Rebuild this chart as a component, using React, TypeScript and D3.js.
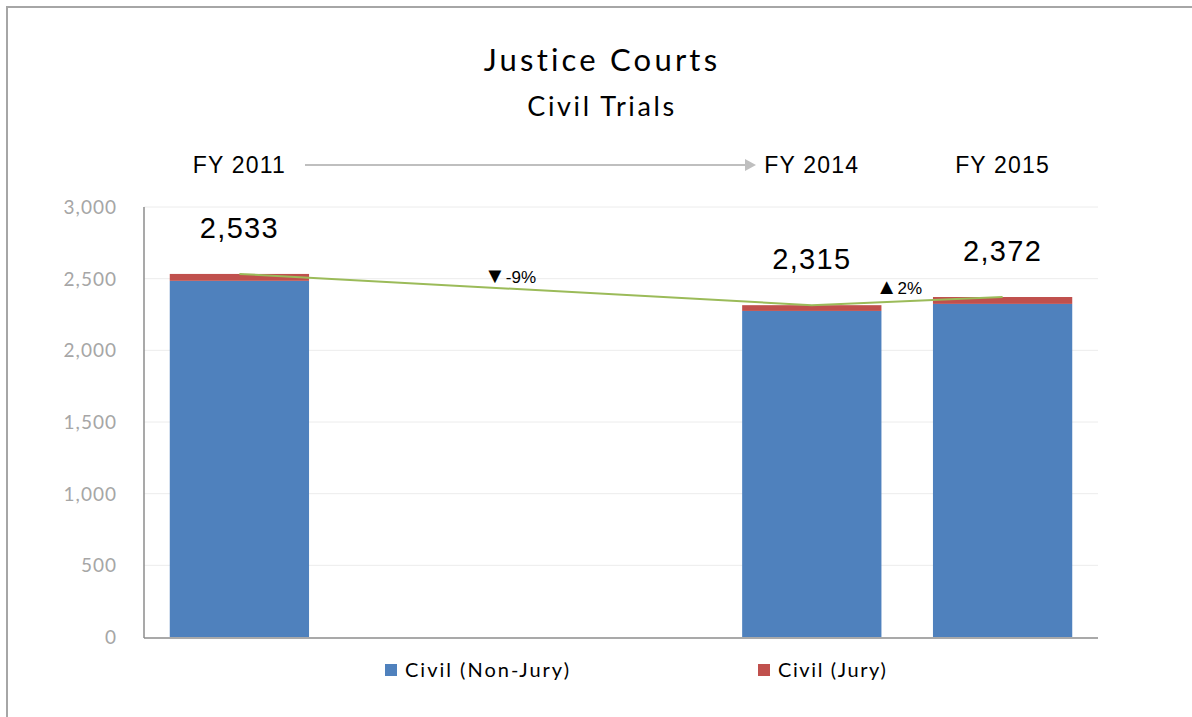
import React from "react";
import * as d3 from "d3";

const categories = ["FY 2011", "", " ", "FY 2014", "FY 2015"];
const nonJury = [2485, null, null, 2275, 2324];
const jury = [48, null, null, 40, 48];
const totals = [2533, null, null, 2315, 2372];
const yTicks = [0, 500, 1000, 1500, 2000, 2500, 3000];
const changeLabels = [
  { from: 0, to: 3, arrow: "▼", text: "-9%" },
  { from: 3, to: 4, arrow: "▲", text: "2%" },
];
const seriesNames = ["Civil (Non-Jury)", "Civil (Jury)"];

const W = 1192, H = 717;
const m = { left: 144, right: 1098, top: 207, bottom: 637 };
const BLUE = "#4F81BD", RED = "#C0504D", GREEN = "#9BBB59";
const GOTHIC = "'Century Gothic', 'URW Gothic', Lato, 'Open Sans', sans-serif";
const ARIAL = "'Liberation Sans', Arial, sans-serif";

export default function App() {
  const x = d3.scaleBand<string>().domain(categories).range([m.left, m.right]).paddingInner(0.27).paddingOuter(0.135);
  const y = d3.scaleLinear().domain([0, 3000]).range([m.bottom, m.top]);
  const bw = x.bandwidth();
  const cx = (i: number) => (x(categories[i]) as number) + bw / 2;
  const idx = totals.map((t, i) => (t == null ? -1 : i)).filter((i) => i >= 0);
  const line = d3.line<number>().x((i) => cx(i)).y((i) => y(totals[i] as number));
  const changePos = [
    { x: 510, y: 283 },
    { x: 899, y: 294 },
  ];

  return (
    <svg width={W} height={H} style={{ position: "absolute", left: 0, top: 0, background: "#fff" }}>
      <rect x={7} y={7} width={W + 20} height={H + 20} fill="#fff" stroke="#A6A6A6" strokeWidth={2} />
      <text x={602} y={71} textAnchor="middle" fontFamily={GOTHIC} fontSize={31} letterSpacing={3.2} fill="#000">Justice Courts</text>
      <text x={602} y={116} textAnchor="middle" fontFamily={GOTHIC} fontSize={27} letterSpacing={2.6} fill="#000">Civil Trials</text>

      {/* period headers */}
      {idx.map((i) => (
        <text key={"h" + i} x={cx(i)} y={173} textAnchor="middle" fontFamily={ARIAL} fontSize={23} letterSpacing={1.2} fill="#000">{categories[i]}</text>
      ))}
      <line x1={305} x2={747} y1={165} y2={165} stroke="#BFBFBF" strokeWidth={2} />
      <path d="M745,159 L756,165 L745,171 Z" fill="#BFBFBF" />

      {/* gridlines */}
      {yTicks.map((t) => (
        <g key={t}>
          {t > 0 && <line x1={m.left} x2={m.right} y1={y(t)} y2={y(t)} stroke="#ECECEC" strokeWidth={1} />}
          <text x={117} y={y(t) + 7} textAnchor="end" fontFamily={GOTHIC} fontSize={19} letterSpacing={1} fill="#A6A6A6">{d3.format(",")(t)}</text>
        </g>
      ))}

      {/* bars */}
      {categories.map((c, i) => {
        const nj = nonJury[i], j = jury[i];
        if (nj == null || j == null) return null;
        const x0 = x(c) as number;
        return (
          <g key={"b" + i}>
            <rect x={x0} y={y(nj)} width={bw} height={y(0) - y(nj)} fill={BLUE} />
            <rect x={x0} y={y(nj + j)} width={bw} height={y(nj) - y(nj + j)} fill={RED} />
          </g>
        );
      })}

      {/* axes */}
      <line x1={m.left} x2={m.left} y1={m.top} y2={m.bottom + 1} stroke="#8C8C8C" strokeWidth={1.5} />
      <line x1={m.left} x2={m.right} y1={m.bottom + 1} y2={m.bottom + 1} stroke="#8C8C8C" strokeWidth={1.5} />

      {/* total line */}
      <path d={line(idx) || ""} fill="none" stroke={GREEN} strokeWidth={2} />

      {/* total labels */}
      {idx.map((i) => (
        <text key={"t" + i} x={cx(i)} y={y(totals[i] as number) - 36} textAnchor="middle" fontFamily={ARIAL} fontSize={29} letterSpacing={1.3} fill="#000">{d3.format(",")(totals[i] as number)}</text>
      ))}

      {/* change labels */}
      {changeLabels.map((c, k) => (
        <text key={"c" + k} x={changePos[k].x} y={changePos[k].y} textAnchor="middle" fontFamily={ARIAL} fill="#000">
          <tspan fontSize={22}>{c.arrow}</tspan>
          <tspan fontSize={17}>{c.text}</tspan>
        </text>
      ))}

      {/* legend */}
      <rect x={385} y={664} width={12} height={12} fill={BLUE} />
      <text x={405} y={677} fontFamily={GOTHIC} fontSize={20} letterSpacing={2} fill="#000">{seriesNames[0]}</text>
      <rect x={758} y={664} width={12} height={12} fill={RED} />
      <text x={778} y={677} fontFamily={GOTHIC} fontSize={20} letterSpacing={1.6} fill="#000">{seriesNames[1]}</text>
    </svg>
  );
}
